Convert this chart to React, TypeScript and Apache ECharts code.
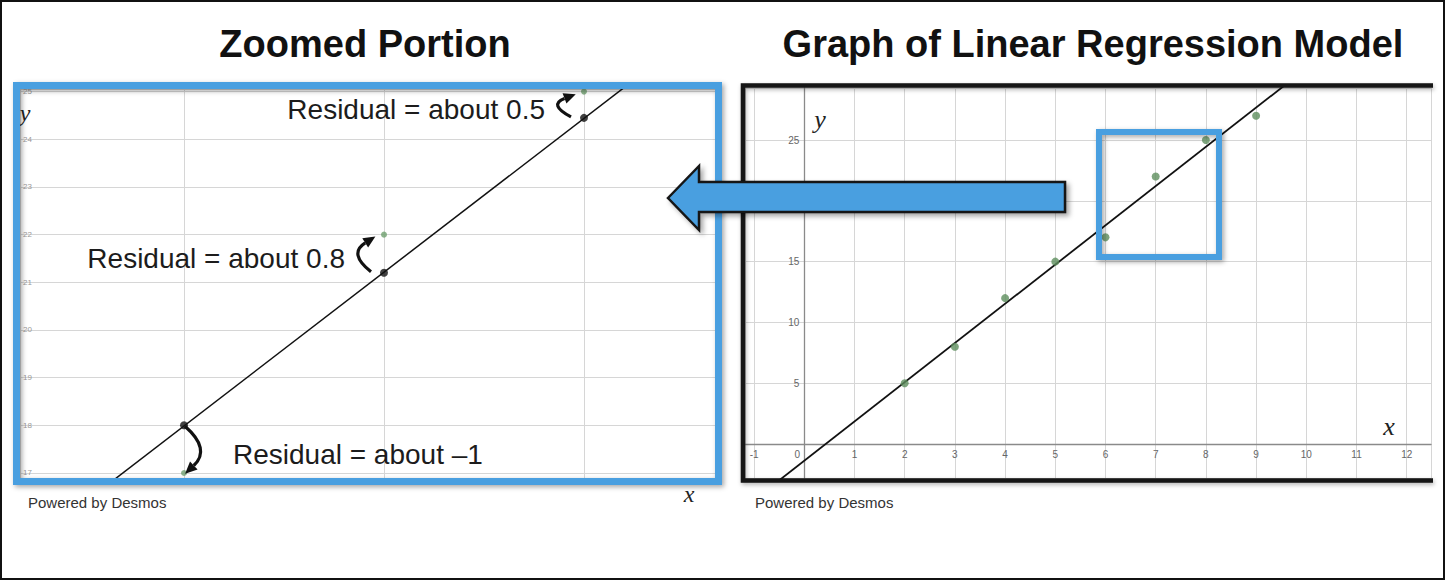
import React, { useEffect, useRef } from 'react';
import * as echarts from 'echarts';

// Data points (x, y) of the scatter plot
const DATA_X = [2, 3, 4, 5, 6, 7, 8, 9];
const DATA_Y = [5, 8, 12, 15, 17, 22, 25, 27];
// Regression line endpoints
const LINE_X = [-1.2, 10];
const LINE_Y = [-5.24, 30.89];
// Zoomed portion: points and their predicted values on the line
const ZOOM_X = [6, 7, 8];
const ZOOM_ACTUAL = [17, 22, 25];
const ZOOM_PREDICTED = [18.0, 21.2, 24.45];
const RESIDUAL_LABELS = ['Residual = about \u20131', 'Residual = about 0.8', 'Residual = about 0.5'];
const TITLES = ['Zoomed Portion', 'Graph of Linear Regression Model'];
const CREDIT = 'Powered by Desmos';

// axis windows
const LEFT_X_RANGE = [5.18, 8.655];
const LEFT_Y_RANGE = [16.895, 25.055];
const RIGHT_X_RANGE = [-1.181, 12.484];
const RIGHT_Y_RANGE = [-2.79, 29.28];

const BLUE = '#4a9fe0';
const GRID_COLOR = '#d6d6d6';
const SANS = '"Liberation Sans", Arial, sans-serif';
const SERIF = '"Liberation Serif", "Times New Roman", serif';

const RIGHT_GRID = { left: 745, top: 88, width: 686, height: 390 };

function isInt(v: number) {
  return Math.abs(v - Math.round(v)) < 1e-6;
}

export default function App() {
  const ref = useRef<HTMLDivElement>(null);

  useEffect(() => {
    if (!ref.current) return;
    const chart = echarts.init(ref.current, undefined, { renderer: 'svg' });

    const points = DATA_X.map((x, i) => [x, DATA_Y[i]]);
    const linePts = LINE_X.map((x, i) => [x, LINE_Y[i]]);
    const predicted = ZOOM_X.map((x, i) => [x, ZOOM_PREDICTED[i]]);
    const residuals = ZOOM_X.map((x, i) => [x, ZOOM_PREDICTED[i], ZOOM_ACTUAL[i]]);

    // shift axes of the right panel onto the zero lines (labels follow)
    const xAxisOffset = -(0 - RIGHT_Y_RANGE[0]) / (RIGHT_Y_RANGE[1] - RIGHT_Y_RANGE[0]) * RIGHT_GRID.height;
    const yAxisOffset = -(0 - RIGHT_X_RANGE[0]) / (RIGHT_X_RANGE[1] - RIGHT_X_RANGE[0]) * RIGHT_GRID.width;

    const labelStyle = { fontSize: 10, color: '#666', fontFamily: SANS };

    const option: any = {
      animation: false,
      backgroundColor: '#ffffff',
      grid: [
        { left: 20, top: 89, width: 695, height: 389 },
        RIGHT_GRID,
      ],
      xAxis: [
        {
          gridIndex: 0, type: 'value', min: LEFT_X_RANGE[0], max: LEFT_X_RANGE[1], minInterval: 1, maxInterval: 1,
          axisLine: { show: false }, axisTick: { show: false }, axisLabel: { show: false },
          splitLine: { lineStyle: { color: GRID_COLOR, width: 1 } },
        },
        {
          gridIndex: 1, type: 'value', min: RIGHT_X_RANGE[0], max: RIGHT_X_RANGE[1], minInterval: 1, maxInterval: 1,
          position: 'bottom', offset: xAxisOffset,
          axisLine: { onZero: false, lineStyle: { color: '#8a8a8a', width: 1.3 } },
          axisTick: { show: false },
          axisLabel: {
            ...labelStyle, margin: 5,
            formatter: (v: number) => {
              if (!isInt(v)) return '';
              const r = Math.round(v);
              return r === 0 ? '{o|0}' : String(r);
            },
            rich: { o: { ...labelStyle, padding: [0, 14, 0, 0] } },
          },
          splitLine: { lineStyle: { color: GRID_COLOR, width: 1 } },
        },
      ],
      yAxis: [
        {
          gridIndex: 0, type: 'value', min: LEFT_Y_RANGE[0], max: LEFT_Y_RANGE[1], minInterval: 1, maxInterval: 1,
          axisLine: { show: false }, axisTick: { show: false },
          axisLabel: {
            inside: true, margin: 3, fontSize: 8, color: '#999', fontFamily: SANS,
            formatter: (v: number) => (isInt(v) ? String(Math.round(v)) : ''),
          },
          splitLine: { lineStyle: { color: GRID_COLOR, width: 1 } },
        },
        {
          gridIndex: 1, type: 'value', min: RIGHT_Y_RANGE[0], max: RIGHT_Y_RANGE[1], minInterval: 5, maxInterval: 5,
          position: 'left', offset: yAxisOffset,
          axisLine: { onZero: false, lineStyle: { color: '#8a8a8a', width: 1.3 } },
          axisTick: { show: false },
          axisLabel: {
            ...labelStyle, margin: 5,
            formatter: (v: number) => {
              const r = Math.round(v);
              if (!isInt(v) || r === 0 || r % 5 !== 0) return '';
              return String(r);
            },
          },
          splitLine: { lineStyle: { color: GRID_COLOR, width: 1 } },
        },
      ],
      series: [
        {
          type: 'line', xAxisIndex: 1, yAxisIndex: 1, data: linePts, symbol: 'none', clip: true,
          lineStyle: { color: '#111', width: 1.8 }, z: 3,
        },
        {
          type: 'scatter', xAxisIndex: 1, yAxisIndex: 1, data: points, symbolSize: 8, clip: true,
          itemStyle: { color: '#5e8f5e' }, z: 4,
        },
        {
          type: 'line', xAxisIndex: 0, yAxisIndex: 0, data: linePts, symbol: 'none', clip: true,
          lineStyle: { color: '#111', width: 1.5 }, z: 3,
        },
        {
          type: 'scatter', xAxisIndex: 0, yAxisIndex: 0, data: points, symbolSize: 6, clip: true,
          itemStyle: { color: '#6fa06f' }, z: 4,
        },
        {
          type: 'scatter', xAxisIndex: 0, yAxisIndex: 0, data: predicted, symbolSize: 8, clip: true,
          itemStyle: { color: '#111' }, z: 5,
        },
        {
          type: 'custom', xAxisIndex: 0, yAxisIndex: 0, data: residuals, z: 6,
          encode: { x: 0, y: [1, 2] },
          renderItem: (params: any, api: any) => {
            const x = api.value(0);
            const yp = api.value(1);
            const ya = api.value(2);
            const p0 = api.coord([x, yp]);
            const p1 = api.coord([x, ya]);
            const positive = ya > yp;
            const mid = (p0[1] + p1[1]) / 2;
            let sx, sy, ex, ey, cx, cy;
            if (positive) {
              sx = p0[0] - 13; sy = p0[1] - 1;
              ex = p0[0] - 12; ey = p1[1] + 4;
              cx = p0[0] - 36; cy = mid;
            } else {
              sx = p0[0] + 1; sy = p0[1] + 1;
              ex = p0[0] + 4; ey = p1[1] - 2;
              cx = p0[0] + 27; cy = mid;
            }
            let dx = ex - cx, dy = ey - cy;
            const len = Math.sqrt(dx * dx + dy * dy) || 1;
            dx /= len; dy /= len;
            const tipX = ex + dx * 4, tipY = ey + dy * 4;
            const bx = ex - dx * 8, by = ey - dy * 8;
            const nx = -dy, ny = dx;
            const hw = 5.5;
            const text = RESIDUAL_LABELS[params.dataIndex];
            return {
              type: 'group',
              children: [
                {
                  type: 'bezierCurve',
                  shape: { x1: sx, y1: sy, x2: bx, y2: by, cpx1: cx, cpy1: cy },
                  style: { stroke: '#111', lineWidth: 3.2, fill: 'none' },
                },
                {
                  type: 'polygon',
                  shape: { points: [[tipX, tipY], [bx + nx * hw, by + ny * hw], [bx - nx * hw, by - ny * hw]] },
                  style: { fill: '#111' },
                },
                {
                  type: 'text',
                  style: {
                    text,
                    x: positive ? p0[0] - 39 : p0[0] + 49,
                    y: mid + 5,
                    fill: '#1c1c1c',
                    font: '28px ' + SANS,
                    align: positive ? 'right' : 'left',
                    verticalAlign: 'middle',
                  },
                },
              ],
            };
          },
        },
      ],
      graphic: [
        // outer border
        { type: 'rect', z: 100, shape: { x: 1, y: 1, width: 1443, height: 578 }, style: { fill: 'none', stroke: '#111', lineWidth: 2 } },
        // titles
        { type: 'text', z: 100, style: { text: TITLES[0], x: 365, y: 44, align: 'center', verticalAlign: 'middle', font: 'bold 38px ' + SANS, fill: '#111' } },
        { type: 'text', z: 100, style: { text: TITLES[1], x: 1093, y: 44, align: 'center', verticalAlign: 'middle', font: 'bold 38px ' + SANS, fill: '#111' } },
        // credits
        { type: 'text', z: 100, style: { text: CREDIT, x: 28, y: 502, verticalAlign: 'middle', font: '15px ' + SANS, fill: '#333' } },
        { type: 'text', z: 100, style: { text: CREDIT, x: 755, y: 502, verticalAlign: 'middle', font: '15px ' + SANS, fill: '#333' } },
        // axis name letters
        { type: 'text', z: 100, style: { text: 'y', x: 25, y: 113, align: 'center', verticalAlign: 'middle', font: 'italic 24px ' + SERIF, fill: '#222' } },
        { type: 'text', z: 100, style: { text: 'x', x: 689, y: 494, align: 'center', verticalAlign: 'middle', font: 'italic 24px ' + SERIF, fill: '#222' } },
        { type: 'text', z: 100, style: { text: 'y', x: 820, y: 119, align: 'center', verticalAlign: 'middle', font: 'italic 26px ' + SERIF, fill: '#222' } },
        { type: 'text', z: 100, style: { text: 'x', x: 1389, y: 426, align: 'center', verticalAlign: 'middle', font: 'italic 26px ' + SERIF, fill: '#222' } },
        // left blue frame
        {
          type: 'rect', z: 101, shape: { x: 16.5, y: 85.5, width: 702, height: 396 },
          style: { fill: 'none', stroke: BLUE, lineWidth: 7, shadowBlur: 5, shadowColor: 'rgba(0,0,0,0.35)', shadowOffsetX: 2, shadowOffsetY: 2 },
        },
        // right black frame (open on the right)
        {
          type: 'polyline', z: 101, shape: { points: [[1433, 85.5], [743, 85.5], [743, 480.5], [1433, 480.5]] },
          style: { fill: 'none', stroke: '#141414', lineWidth: 4.5, shadowBlur: 4, shadowColor: 'rgba(0,0,0,0.3)', shadowOffsetX: 1, shadowOffsetY: 2 },
        },
        // blue square marking the zoom region
        {
          type: 'rect', z: 102, shape: { x: 1099, y: 132, width: 120, height: 125 },
          style: { fill: 'none', stroke: BLUE, lineWidth: 6, shadowBlur: 5, shadowColor: 'rgba(0,0,0,0.35)', shadowOffsetX: 2, shadowOffsetY: 2 },
        },
        // big arrow
        {
          type: 'polygon', z: 103,
          shape: { points: [[668, 198], [699, 166], [699, 182], [1065, 182], [1065, 212], [699, 212], [699, 230]] },
          style: { fill: BLUE, stroke: '#151515', lineWidth: 2.5, lineJoin: 'miter', shadowBlur: 5, shadowColor: 'rgba(0,0,0,0.35)', shadowOffsetX: 3, shadowOffsetY: 3 },
        },
      ],
    };

    chart.setOption(option);
    return () => chart.dispose();
  }, []);

  return (
    <div
      ref={ref}
      style={{ position: 'absolute', left: 0, top: 0, width: 1445, height: 580, background: '#fff' }}
    />
  );
}
